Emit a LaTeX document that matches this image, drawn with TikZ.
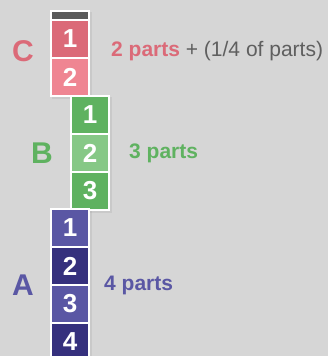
\documentclass[tikz,border=0pt]{standalone}
\usepackage{fontspec}
\setmainfont{Liberation Sans}
\usetikzlibrary{positioning,shadows}
\definecolor{bg}{RGB}{214,214,214}
\definecolor{rose}{RGB}{219,106,120}
\definecolor{roselt}{RGB}{239,133,146}
\definecolor{moss}{RGB}{95,178,96}
\definecolor{mosslt}{RGB}{134,200,134}
\definecolor{violet}{RGB}{90,87,164}
\definecolor{violetdk}{RGB}{53,48,125}
\definecolor{slate}{RGB}{90,90,90}
\definecolor{note}{RGB}{95,95,95}
\tikzset{
  cell/.style={fill=#1,draw=white,line width=2pt,minimum width=38pt,minimum height=38pt,
    inner sep=0pt,outer sep=0pt,text=white,font=\fontsize{26}{26}\selectfont\bfseries},
  cell/.default=moss,
  column/.style={fill=white,drop shadow={opacity=0.15,shadow xshift=2pt,shadow yshift=-2pt}},
  letter/.style={text=#1,font=\fontsize{30}{30}\selectfont\bfseries},
  parts/.style={text=#1,font=\fontsize{21}{21}\selectfont\bfseries,anchor=west,inner sep=0pt},
}
\begin{document}
\begin{tikzpicture}[x=1pt,y=-1pt]
  \fill[bg] (0,0) rectangle (328,356);
  \useasboundingbox (0,0) rectangle (328,356);
  % column backs
  \path[column] (50,10) rectangle (90,97);
  \path[column] (70,95) rectangle (110,211);
  \path[column] (50,208) rectangle (90,362);
  % C: two parts and a quarter
  \node[fill=slate,draw=white,line width=2pt,minimum width=38pt,minimum height=9.5pt,inner sep=0pt] (cq) at (70,15.5) {};
  \node[cell=rose] (c1) at (70,39) {1};
  \node[cell=roselt,below=0pt of c1] (c2) {2};
  % B: three parts
  \node[cell=moss] (b1) at (90,115) {1};
  \node[cell=mosslt,below=0pt of b1] (b2) {2};
  \node[cell=moss,below=0pt of b2] (b3) {3};
  % A: four parts
  \node[cell=violet] (a1) at (70,228) {1};
  \node[cell=violetdk,below=0pt of a1] (a2) {2};
  \node[cell=violet,below=0pt of a2] (a3) {3};
  \node[cell=violetdk,below=0pt of a3] (a4) {4};
  % labels
  \node[letter=rose] (lc) at (23,51) {C};
  \node[parts=rose] (pc) at (111,51) {2 parts \textcolor{note}{\mdseries+ (1/4 of parts)}};
  \node[letter=moss] (lb) at (42,153) {B};
  \node[parts=moss] (pb) at (129,153) {3 parts};
  \node[letter=violet] (la) at (23,285) {A};
  \node[parts=violet] (pa) at (104,285) {4 parts};
\end{tikzpicture}
\end{document}
